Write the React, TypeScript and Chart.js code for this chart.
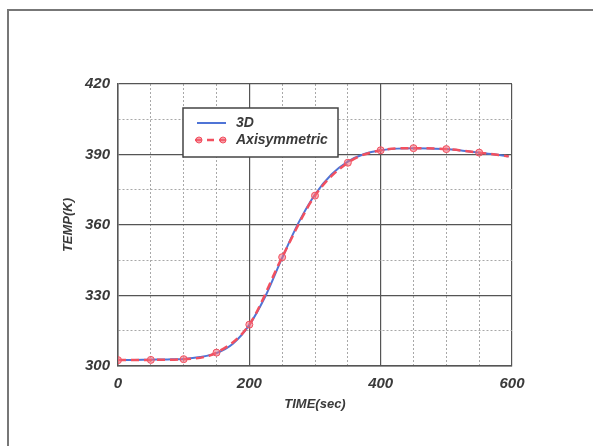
import React, { useEffect, useRef } from "react";
import { Chart, registerables } from "chart.js";

Chart.register(...registerables);

const SERIES_NAMES = ["3D", "Axisymmetric"];
const X_TITLE = "TIME(sec)";
const Y_TITLE = "TEMP(K)";

const TIME_3D = [0, 25, 50, 75, 100, 125, 150, 175, 200, 225, 250, 275, 300, 325, 350, 375, 400, 425, 450, 475, 500, 525, 550, 575, 595];
const TEMP_3D = [302.5, 302.6, 302.7, 302.8, 303.0, 303.8, 305.5, 309.5, 317.5, 330.0, 346.0, 361.0, 373.0, 381.5, 387.0, 390.2, 391.8, 392.5, 392.7, 392.6, 392.3, 391.6, 390.8, 390.0, 389.2];

const TIME_AXI = [0, 50, 100, 150, 200, 250, 300, 350, 400, 450, 500, 550, 595];
const TEMP_AXI = [302.5, 302.6, 302.9, 305.7, 317.6, 346.3, 372.5, 386.5, 391.8, 392.7, 392.3, 390.8, 389.2];
const AXI_MARKER = [1, 1, 1, 1, 1, 1, 1, 1, 1, 1, 1, 1, 0];

const X_LABELS = [0, 200, 400, 600];
const Y_LABELS = [300, 330, 360, 390, 420];

const FONT = "'Liberation Sans', Arial, sans-serif";
const TEXT = "#3a3a3a";
const BLUE = "#4f74d6";
const RED = "#f2505f";

const legendPlugin = {
  id: "boxLegend",
  afterDraw(chart: any) {
    const ctx = chart.ctx;
    const ds = chart.data.datasets;
    const bx = 183, by = 108, bw = 155, bh = 49;
    ctx.save();
    ctx.fillStyle = "#ffffff";
    ctx.fillRect(bx, by, bw, bh);
    ctx.strokeStyle = "#444";
    ctx.lineWidth = 1.5;
    ctx.strokeRect(bx, by, bw, bh);
    ctx.font = `italic bold 14px ${FONT}`;
    ctx.textBaseline = "middle";
    ctx.fillStyle = TEXT;
    // row 1
    ctx.strokeStyle = ds[0].borderColor;
    ctx.lineWidth = 2;
    ctx.setLineDash([]);
    ctx.beginPath();
    ctx.moveTo(197, 123);
    ctx.lineTo(226, 123);
    ctx.stroke();
    ctx.fillText(ds[0].label, 236, 123);
    // row 2
    ctx.strokeStyle = ds[1].borderColor;
    ctx.lineWidth = 2.5;
    ctx.setLineDash([7, 5]);
    ctx.beginPath();
    ctx.moveTo(195, 140);
    ctx.lineTo(227, 140);
    ctx.stroke();
    ctx.setLineDash([]);
    ctx.fillStyle = ds[1].pointBackgroundColor;
    ctx.strokeStyle = ds[1].pointBorderColor;
    ctx.lineWidth = 1;
    for (const px of [199, 223]) {
      ctx.beginPath();
      ctx.arc(px, 140, 3, 0, Math.PI * 2);
      ctx.fill();
      ctx.stroke();
    }
    ctx.fillStyle = TEXT;
    ctx.fillText(ds[1].label, 236, 140);
    ctx.restore();
  },
};

export default function App() {
  const ref = useRef<HTMLCanvasElement | null>(null);

  useEffect(() => {
    if (!ref.current) return;
    const isMajorX = (v: number) => X_LABELS.includes(v);
    const isMajorY = (v: number) => Y_LABELS.includes(v);
    const chart = new Chart(ref.current, {
      type: "line",
      data: {
        datasets: [
          {
            label: SERIES_NAMES[0],
            data: TIME_3D.map((t, i) => ({ x: t, y: TEMP_3D[i] })),
            borderColor: BLUE,
            borderWidth: 2,
            pointRadius: 0,
            cubicInterpolationMode: "monotone",
            order: 2,
          },
          {
            label: SERIES_NAMES[1],
            data: TIME_AXI.map((t, i) => ({ x: t, y: TEMP_AXI[i] })),
            borderColor: RED,
            borderWidth: 2.5,
            borderDash: [8, 5],
            pointRadius: AXI_MARKER.map((m) => (m ? 3.5 : 0)),
            pointBackgroundColor: "rgba(242,110,125,0.55)",
            pointBorderColor: RED,
            pointBorderWidth: 1,
            cubicInterpolationMode: "monotone",
            order: 1,
          },
        ],
      },
      options: {
        animation: false,
        responsive: false,
        layout: { padding: { left: 55, right: 81, top: 84, bottom: 30 } },
        plugins: {
          legend: { display: false },
          tooltip: { enabled: false },
        },
        scales: {
          x: {
            type: "linear",
            min: 0,
            max: 600,
            afterFit: (s: any) => {
              s.height = 50;
            },
            ticks: {
              stepSize: 50,
              autoSkip: false,
              maxRotation: 0,
              padding: 9,
              color: TEXT,
              font: { family: FONT, size: 15, style: "italic", weight: "bold" },
              callback: (v: any) => (X_LABELS.includes(Number(v)) ? String(v) : ""),
            },
            grid: {
              drawTicks: false,
              color: (c: any) => (c.tick && isMajorX(c.tick.value) ? "#555" : "#a8a8a8"),
              lineWidth: (c: any) => (c.tick && isMajorX(c.tick.value) ? 1.2 : 1),
            },
            border: {
              color: "#555",
              width: 1.5,
              dash: (c: any) => (c.tick && !isMajorX(c.tick.value) ? [2, 2] : []),
            },
            title: {
              display: true,
              text: X_TITLE,
              color: TEXT,
              font: { family: FONT, size: 13, style: "italic", weight: "bold" },
              padding: { top: 0, bottom: 4 },
            },
          },
          y: {
            type: "linear",
            min: 300,
            max: 420,
            afterFit: (s: any) => {
              s.width = 63;
            },
            ticks: {
              stepSize: 15,
              autoSkip: false,
              padding: 8,
              color: TEXT,
              font: { family: FONT, size: 15, style: "italic", weight: "bold" },
              callback: (v: any) => (Y_LABELS.includes(Number(v)) ? String(v) : ""),
            },
            grid: {
              drawTicks: false,
              color: (c: any) => (c.tick && isMajorY(c.tick.value) ? "#555" : "#a8a8a8"),
              lineWidth: (c: any) => (c.tick && isMajorY(c.tick.value) ? 1.2 : 1),
            },
            border: {
              color: "#555",
              width: 1.5,
              dash: (c: any) => (c.tick && !isMajorY(c.tick.value) ? [2, 2] : []),
            },
            title: {
              display: true,
              text: Y_TITLE,
              color: TEXT,
              font: { family: FONT, size: 13, style: "italic", weight: "bold" },
              padding: { top: 6, bottom: 0 },
            },
          },
        },
      },
      plugins: [legendPlugin],
    } as any);
    return () => chart.destroy();
  }, []);

  return (
    <div style={{ position: "fixed", left: 0, top: 0, width: 593, height: 446, background: "#fff" }}>
      <div
        style={{
          position: "absolute",
          left: 7,
          top: 9,
          width: 586,
          height: 437,
          borderTop: "2px solid #777",
          borderLeft: "2px solid #777",
          boxSizing: "border-box",
        }}
      />
      <canvas ref={ref} width={593} height={446} style={{ position: "absolute", left: 0, top: 0 }} />
    </div>
  );
}
